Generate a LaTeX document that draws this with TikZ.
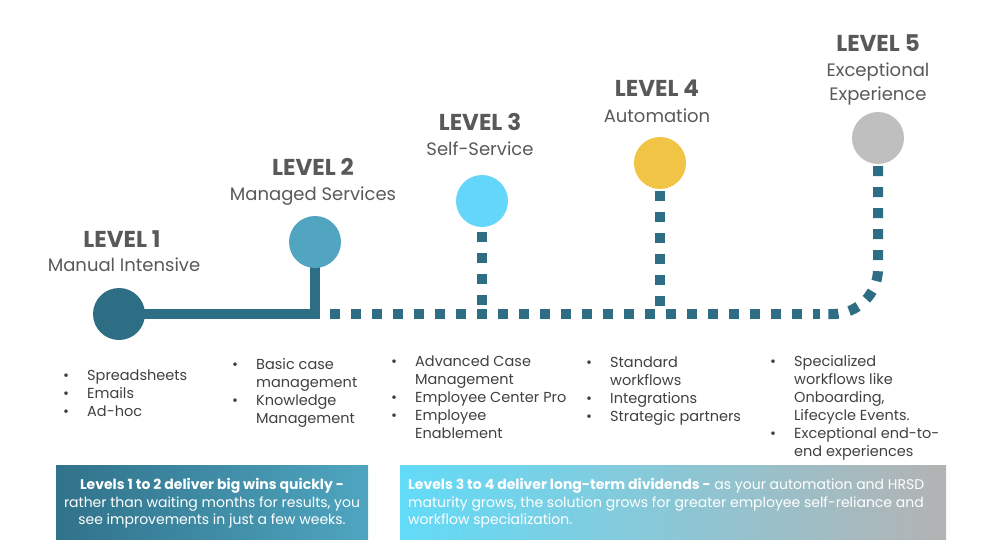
\documentclass[tikz,border=0pt]{standalone}
\usepackage{fontspec}
\setmainfont{Poppins}
\usetikzlibrary{backgrounds}
\definecolor{titlegray}{HTML}{595959}
\definecolor{bodygray}{HTML}{404040}
\definecolor{linec}{HTML}{2E6E85}
\definecolor{cA}{HTML}{2E6E85}
\definecolor{cB}{HTML}{52A5C0}
\definecolor{cC}{HTML}{63D6F9}
\definecolor{cD}{HTML}{F2C446}
\definecolor{cE}{HTML}{BFBFBF}
\definecolor{bAl}{HTML}{30728A}
\definecolor{bAm}{HTML}{2C667B}
\definecolor{bAr}{HTML}{4FA5C0}
\definecolor{bBl}{HTML}{62DBF8}
\definecolor{bBm}{HTML}{5BBDE0}
\definecolor{bBr}{HTML}{B3B3B3}
\newcommand{\bl}{\textbullet}
\tikzset{
  dot/.style={circle, minimum size=52pt, inner sep=0pt, draw=none},
  solidline/.style={draw=linec, line width=10pt, line join=miter},
  dotline/.style={draw=linec, line width=10pt, dash pattern=on 10pt off 11pt},
  lvl/.style={font=\fontsize{23}{23}\selectfont\bfseries, text=titlegray, anchor=base, inner sep=0pt},
  sub/.style={font=\fontsize{18}{22}\selectfont, text=titlegray, anchor=base, inner sep=0pt},
  blist/.style={font=\fontsize{14.5}{18}\selectfont, text=bodygray, anchor=north west, inner sep=0pt},
  boxtext/.style={font=\fontsize{14}{17.5}\selectfont, text=white, inner sep=0pt},
}
\begin{document}
\begin{tikzpicture}[x=1pt,y=-1pt]
\useasboundingbox (0,0) rectangle (1000,559);

% circles
\node[dot, fill=cA] (c1) at (119,314) {};
\node[dot, fill=cB] (c2) at (315,242) {};
\node[dot, fill=cC] (c3) at (482,201) {};
\node[dot, fill=cD] (c4) at (660,163) {};
\node[dot, fill=cE] (c5) at (878,138) {};

\coordinate (d0) at (330,314);
\coordinate (d1) at (820,314);

\begin{scope}[on background layer]
  \draw[solidline] (c1.center) -- (c2.center |- c1.center) -- (c2.center);
\end{scope}
\draw[dotline] (d0) -- (d1);
\draw[dotline, rounded corners=45pt] ([yshift=-2pt]c5.south) |- (d1);
\draw[dotline] ([yshift=-5pt]c3.south) -- (c3.south |- d0);
\draw[dotline] ([yshift=-2pt]c4.south) -- (c4.south |- d0);

% titles
\node[lvl] (t1) at (122,247) {LEVEL 1};
\node[sub] (s1) at (124,271.5) {Manual Intensive};
\node[lvl] (t2) at (313,175) {LEVEL 2};
\node[sub] (s2) at (313,200) {Managed Services};
\node[lvl] (t3) at (480,130) {LEVEL 3};
\node[sub] (s3) at (480,155) {Self-Service};
\node[lvl] (t4) at (657,97) {LEVEL 4};
\node[sub] (s4) at (657,122) {Automation};
\node[lvl] (t5) at (878,52) {LEVEL 5};
\node[sub] (s5a) at (878,77) {Exceptional};
\node[sub] (s5b) at (878,100) {Experience};

% bullet lists
\node[blist] (l1) at (63,367.4) {\begin{tabular}{@{}p{24pt}@{}l@{}}
\bl & Spreadsheets\\
\bl & Emails\\
\bl & Ad-hoc
\end{tabular}};
\node[blist] (l2) at (232,356.4) {\begin{tabular}{@{}p{24pt}@{}l@{}}
\bl & Basic case\\
    & management\\
\bl & Knowledge\\
    & Management
\end{tabular}};
\node[blist] (l3) at (391,353.4) {\begin{tabular}{@{}p{24pt}@{}l@{}}
\bl & Advanced Case\\
    & Management\\
\bl & Employee Center Pro\\
\bl & Employee\\
    & Enablement
\end{tabular}};
\node[blist] (l4) at (586,354.4) {\begin{tabular}{@{}p{24pt}@{}l@{}}
\bl & Standard\\
    & workflows\\
\bl & Integrations\\
\bl & Strategic partners
\end{tabular}};
\node[blist] (l5) at (770,353.4) {\begin{tabular}{@{}p{24pt}@{}l@{}}
\bl & Specialized\\
    & workflows like\\
    & Onboarding,\\
    & Lifecycle Events.\\
\bl & Exceptional end-to-\\
    & end experiences
\end{tabular}};

% bottom boxes
\path[left color=bAl, middle color=bAm, right color=bAr] (56,465) rectangle (368,539);
\path[left color=bBl, middle color=bBm, right color=bBr] (400,465) rectangle (946,539);
\node[boxtext, anchor=north] (bt1) at (212,477.25) {\begin{tabular}{@{}c@{}}
\textbf{Levels 1 to 2 deliver big wins quickly -}\\
rather than waiting months for results, you\\
see improvements in just a few weeks.
\end{tabular}};
\node[boxtext, anchor=north west] (bt2) at (408,477.25) {\begin{tabular}{@{}l@{}}
\textbf{Levels 3 to 4 deliver long-term dividends -} as your automation and HRSD\\
maturity grows, the solution grows for greater employee self-reliance and\\
workflow specialization.
\end{tabular}};
\end{tikzpicture}
\end{document}
